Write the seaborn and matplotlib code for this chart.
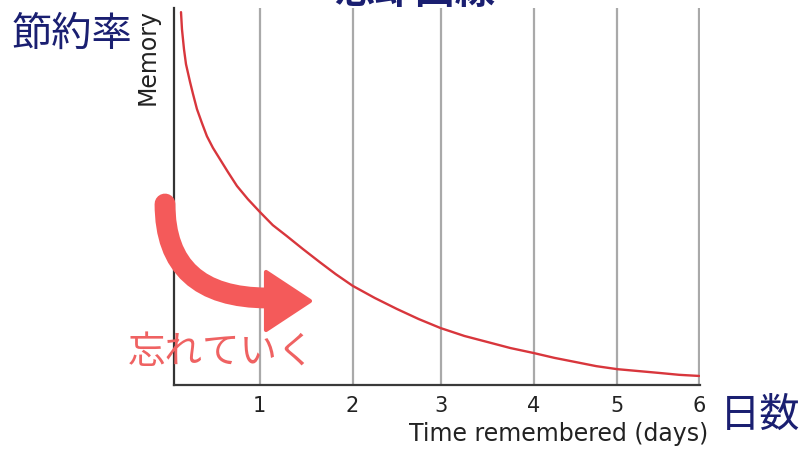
import numpy as np
import pandas as pd
import matplotlib
matplotlib.use("Agg")
import matplotlib.pyplot as plt
import seaborn as sns
from matplotlib.path import Path
from matplotlib.patches import PathPatch, Polygon

# forgetting curve (days, memory %)
days = [0.080, 0.091, 0.114, 0.137, 0.183, 0.217, 0.262, 0.319, 0.376, 0.445,
        0.525, 0.616, 0.719, 0.844, 0.981, 1.129, 1.289, 1.471, 1.665, 1.848,
        2.042, 2.293, 2.544, 2.795, 3.046, 3.319, 3.582, 3.844, 4.106, 4.346,
        4.586, 4.825, 5.065, 5.304, 5.544, 5.772, 6.0]
memory = [98.9, 94.4, 89.1, 85.1, 80.4, 77.2, 73.2, 69.5, 66.0, 62.9,
          59.9, 56.5, 52.8, 49.3, 45.9, 42.4, 39.5, 36.1, 32.6, 29.4,
          26.3, 23.1, 20.2, 17.5, 15.1, 13.0, 11.4, 9.8, 8.5, 7.2,
          6.1, 5.0, 4.2, 3.7, 3.2, 2.7, 2.4]

# grid lines are not quite evenly spaced in the source
tick_pos = [0.98, 2.04, 3.05, 4.11, 5.06, 6.0]
tick_labels = ["1", "2", "3", "4", "5", "6"]

df = pd.DataFrame({"days": days, "memory": memory})

sns.set_theme(style="white")
plt.rcParams["font.family"] = ["DejaVu Sans"]

W, H = 802, 452
fig = plt.figure(figsize=(W / 100, H / 100), dpi=100)
ax = fig.add_axes([174 / W, 1 - 386 / H, 526 / W, 377 / H])

sns.lineplot(data=df, x="days", y="memory", sort=False, color="#d8363c",
             linewidth=1.7, ax=ax)

ax.set_xlim(0, 6.01)
ax.set_ylim(0, 100)
ax.set_xticks(tick_pos, tick_labels)
ax.set_yticks([])
ax.tick_params(axis="x", length=0, pad=7, labelsize=15, labelcolor="#222222")
ax.grid(axis="x", color="#a9a9a9", linewidth=1.6)
ax.set_axisbelow(True)

for s in ["top", "right"]:
    ax.spines[s].set_visible(False)
ax.spines["left"].set_color("#333333")
ax.spines["bottom"].set_color("#3a3a3a")
ax.spines["left"].set_linewidth(1.6)
ax.spines["bottom"].set_linewidth(1.6)

ax.set_xlabel("Time remembered (days)", fontsize=17, color="#222222")
ax.xaxis.set_label_coords((708 - 174) / 526, (386 - 422) / 377)
ax.xaxis.label.set_ha("right")
ax.set_ylabel("Memory", fontsize=17, color="#222222", loc="top")
ax.yaxis.set_label_coords(-0.027, 1.0)


def px(x, y):
    return (x / W, 1 - y / H)


jp = ["Noto Sans CJK JP", "DejaVu Sans"]
navy = "#1a1f71"
red = "#f45a5a"

# title, cut off at the top edge in the reference
fig.text(*px(415, 12), "忘却曲線", family=jp, fontsize=29, fontweight="bold",
         color=navy, ha="center", va="bottom")
fig.text(*px(12, 34), "節約率", family=jp, fontsize=29, color=navy,
         ha="left", va="center")
fig.text(*px(720, 415), "日数", family=jp, fontsize=29, color=navy,
         ha="left", va="center")
fig.text(*px(128, 353), "忘れていく", family=jp, fontsize=27, color="#ef6262",
         ha="left", va="center")

# curved arrow
body = Path([px(165, 205), px(165, 299), px(268, 299)],
            [Path.MOVETO, Path.CURVE3, Path.CURVE3])
fig.add_artist(PathPatch(body, transform=fig.transFigure, fill=False,
                         edgecolor=red, linewidth=15, capstyle="round"))
fig.add_artist(Polygon([px(266, 273), px(266, 331), px(310, 302)],
                       closed=True, transform=fig.transFigure, facecolor=red,
                       edgecolor=red, linewidth=3, joinstyle="round"))

fig.savefig("out.png", dpi=100)
